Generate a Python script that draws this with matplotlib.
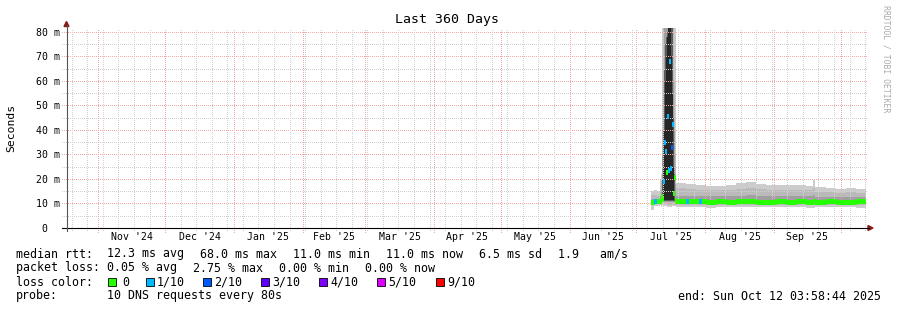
import datetime as dt
import numpy as np
import matplotlib
matplotlib.use("Agg")
import matplotlib.pyplot as plt
from matplotlib.lines import Line2D
from matplotlib.patches import Polygon, Rectangle

W, H, DPI = 897, 310, 100
MONO = "DejaVu Sans Mono"

start = dt.datetime(2024, 10, 17, 3, 58, 44)
end = dt.datetime(2025, 10, 12, 3, 58, 44)
span = (end - start).total_seconds() / 86400.0

# step edges (days since start) -- one value per step below
edges = [263.5, 264.8, 266.2,
         267.5, 268.0, 268.4, 268.9, 269.3, 269.8, 270.2, 270.7, 271.1,
         271.6, 272.0, 272.5, 272.9, 273.4, 273.8, 274.3,
         274.7, 279.2, 283.7, 288.2, 292.7, 297.2, 301.7, 306.2, 310.7,
         315.2, 319.7, 324.2, 328.7, 333.2, 336.4, 337.3, 342.2, 346.7,
         351.2, 355.7, 360.0]

# smoke bands in ms (outer pair -> inner pair)
b1_lo = [7.3, 9.0, 9.0,
         9.4, 8.7, 9.5, 9.0, 9.0, 9.0, 9.0, 8.5, 8.5, 8.5, 8.5, 8.5, 9.0, 9.0, 9.0, 9.0,
         8.5, 8.4, 8.6, 8.3, 8.5, 8.6, 8.4, 8.5, 8.7, 8.5, 8.4, 8.5, 8.6, 8.3, 8.2, 8.5,
         8.6, 8.4, 8.5, 8.3]
b1_hi = [15.1, 15.5, 15.0,
         19.6, 22.0, 85, 85, 85, 85, 85, 85, 85, 85, 85, 85, 85, 85, 85, 85,
         18.4, 18.0, 17.4, 17.3, 17.2, 17.5, 18.3, 18.6, 17.9, 17.6, 17.7, 17.4, 17.6,
         17.3, 19.5, 16.6, 16.2, 16.0, 16.3, 15.8]
b2_lo = [9.5, 10.0, 10.0,
         10.0, 9.5, 10.5, 10.0, 10.0, 10.0, 10.0, 9.5, 9.5, 9.5, 9.5, 9.5, 10.0, 10.0, 9.5, 9.5,
         9.4, 9.3, 9.5, 9.3, 9.4, 9.5, 9.3, 9.4, 9.5, 9.4, 9.3, 9.4, 9.5, 9.3, 9.2, 9.4,
         9.5, 9.3, 9.4, 9.3]
b2_hi = [13.5, 13.5, 13.0,
         16.0, 19.0, 40.0, 85, 85, 85, 85, 85, 85, 85, 85, 85, 85, 85, 60.0, 30.0,
         16.2, 16.0, 15.6, 15.5, 15.5, 15.7, 16.0, 16.3, 15.9, 15.6, 15.7, 15.5, 15.6,
         15.4, 16.5, 14.8, 14.5, 14.3, 14.5, 14.2]
b3_lo = [10.3, 10.3, 10.3] + [10.5] * 16 + [10.2] * 20
b3_hi = [12.0, 12.0, 12.0,
         13.0, 15.0, 30.0, 60.0, 85, 85, 85, 85, 85, 85, 85, 85, 85, 60.0, 40.0, 18.0,
         13.2, 13.0, 13.0, 12.9, 13.0, 13.0, 13.2, 13.3, 13.0, 13.0, 13.0, 12.9, 13.0,
         12.9, 13.5, 12.8, 12.6, 12.6, 12.7, 12.5]
b4_lo = [10.6] * 3 + [10.8] + [11.0] * 15 + [10.6] * 20
b4_hi = [11.4] * 3 + [11.2, 13.0, 20.0, 40.0, 65.0, 75.0, 78.0, 80.0, 85, 85, 85, 85,
                      85, 45.0, 22.0, 12.0] + [11.6] * 20
b5_lo = [10.8] * 3 + [11.0] * 4 + [11.5] * 10 + [11.0] * 2 + [10.8] * 20
b5_hi = [11.0] * 3 + [11.0, 11.0, 11.0, 25.0, 40.0, 60.0, 70.0, 78.0, 85, 85, 85,
                      70.0, 55.0, 25.0, 11.0, 11.0] + [11.0] * 20

median = [10.8, 11.2, 11.0,
          11.0, 13.0, 12.0, 19.3, 35.2, 31.4, 22.9, 45.7, 23.7, 68.0, 24.5, 33.0, 42.4,
          14.4, 20.8, 11.5,
          11.0, 10.9, 10.9, 10.8, 10.9, 10.8, 10.9, 11.0, 10.8, 10.8, 10.9, 10.8, 10.9,
          10.8, 11.0, 10.8, 10.9, 10.8, 10.8, 10.9]
loss = [0, 1, 0,
        0, 0, 0, 1, 1, 1, 0, 1, 1, 1, 1, 2, 1, 0, 0, 0] + [0] * 20

# single columns with packet loss inside the steady part
spot_day = [279.2, 285.1]
spot_ms = [11.2, 11.0]
spot_loss = [1, 1]

smoke_colors = ["#cccccc", "#bababa", "#a0a0a0", "#5c5c5c", "#262626"]
loss_colors = ["#26ff00", "#00b8ff", "#0059ff", "#5e00ff", "#7e00ff", "#dd00ff", "#ff0000"]
loss_names = ["0", "1/10", "2/10", "3/10", "4/10", "5/10", "9/10"]

y_top = 81.63
minor_c = "#d0d0d0"
major_c = "#f4a8a8"
dots = (0, (0.36, 1.08))


def fx(px):
    return px / W


def fy(py):
    return 1 - py / H


def day(d):
    return (d - start).total_seconds() / 86400.0


fig = plt.figure(figsize=(W / DPI, H / DPI), dpi=DPI)
ax = fig.add_axes([65.5 / W, 82 / H, 800 / W, 200 / H])
ax.set_xlim(0, span)
ax.set_ylim(0, y_top)
for s in ax.spines.values():
    s.set_visible(False)

# smoke
x = np.array(edges)
for lo, hi, c in zip([b1_lo, b2_lo, b3_lo, b4_lo, b5_lo],
                     [b1_hi, b2_hi, b3_hi, b4_hi, b5_hi], smoke_colors):
    lo = np.append(lo, lo[-1])
    hi = np.append(hi, hi[-1])
    ax.fill_between(x, lo, hi, step="post", color=c, lw=0, zorder=1,
                    antialiased=False)

# grid (crisp 1px dots)
grid = dict(ls=dots, lw=0.72, clip_on=False, zorder=2, antialiased=False)
for v in np.arange(5, 81, 10):
    ax.axhline(v, xmin=-0.005, xmax=1.003, color=minor_c, **grid)
for v in range(10, 81, 10):
    ax.axhline(v, xmin=-0.005, xmax=1.003, color=major_c, **grid)

week = dt.datetime(2024, 10, 20)
while week < end:
    ax.axvline(day(week), ymin=-0.01, ymax=1, color=minor_c, **grid)
    week += dt.timedelta(days=7)

months = [dt.datetime(2024 + (10 + i) // 12, (10 + i) % 12 + 1, 1) for i in range(13)]
for m in months:
    if day(m) < span:
        ax.axvline(day(m), ymin=-0.02, ymax=1, color=major_c, **grid)

# median rtt coloured by loss
ax.hlines(median, x[:-1], x[1:], colors=[loss_colors[c] for c in loss],
          lw=2.4, zorder=3, antialiased=False)
ax.hlines(spot_ms, np.array(spot_day), np.array(spot_day) + 0.9,
          colors=[loss_colors[c] for c in spot_loss], lw=2.4, zorder=3,
          antialiased=False)

# ticks
mids = [day(months[i]) + (day(months[i + 1]) - day(months[i])) / 2 for i in range(11)]
ax.set_xticks(mids, [m.strftime("%b '%y") for m in months[:11]],
              fontfamily=MONO, fontsize=7.1)
ax.tick_params(axis="x", length=0, pad=3.2)
ax.set_yticks(range(0, 81, 10), ["0  "] + [f"{v} m" for v in range(10, 81, 10)],
              fontfamily=MONO, fontsize=7.1)
ax.tick_params(axis="y", length=0, pad=4.0)

# axes lines and arrows
fig.add_artist(Line2D([fx(62), fx(869)], [fy(228), fy(228)], color="black", lw=0.8))
fig.add_artist(Line2D([fx(66.5), fx(66.5)], [fy(231), fy(25)], color="#555555", lw=0.8))
arrow_c = "#8b1a1a"
fig.add_artist(Polygon([[fx(868), fy(225.5)], [fx(873), fy(228)], [fx(868), fy(230.5)]],
                       closed=True, color=arrow_c, transform=fig.transFigure))
fig.add_artist(Polygon([[fx(64), fy(26.5)], [fx(66.5), fy(21.5)], [fx(69), fy(26.5)]],
                       closed=True, color=arrow_c, transform=fig.transFigure))

# titles
fig.text(fx(447), fy(19), "Last 360 Days", ha="center", va="center",
         fontfamily=MONO, fontsize=9.5)
fig.text(fx(11), fy(128), "Seconds", ha="center", va="center", rotation=90,
         fontfamily=MONO, fontsize=8.2)
fig.text(fx(886), fy(59), "RRDTOOL / TOBI OETIKER", ha="center", va="center",
         rotation=270, fontfamily=MONO, fontsize=5.9, color="#aaaaaa")

# legend
leg = dict(ha="left", va="center", fontfamily=MONO, fontsize=8.37)
row1 = [(16, "median rtt:"), (107, "12.3 ms avg"), (200, "68.0 ms max"),
        (293, "11.0 ms min"), (386, "11.0 ms now"), (479, "6.5 ms sd"),
        (558, "1.9   am/s")]
row2 = [(16, "packet loss:"), (107, "0.05 % avg"), (193, "2.75 % max"),
        (279, "0.00 % min"), (365, "0.00 % now")]
for px, t in row1:
    fig.text(fx(px), fy(254), t, **leg)
for px, t in row2:
    fig.text(fx(px), fy(268), t, **leg)
fig.text(fx(16), fy(282), "loss color:", **leg)
box_x = [108, 146, 203, 261, 319, 377, 436]
text_x = [122, 157, 214, 272, 330, 388, 447]
for bx, tx, c, name in zip(box_x, text_x, loss_colors, loss_names):
    fig.add_artist(Rectangle((fx(bx), fy(286)), 8 / W, 8 / H, facecolor=c,
                             edgecolor="black", lw=0.6, transform=fig.transFigure))
    fig.text(fx(tx), fy(282), name, **leg)
fig.text(fx(16), fy(296), "probe:", **leg)
fig.text(fx(107), fy(296), "10 DNS requests every 80s", **leg)
fig.text(fx(678), fy(296), "end: Sun Oct 12 03:58:44 2025", **leg)

fig.savefig("out.png", dpi=DPI, facecolor="white")
